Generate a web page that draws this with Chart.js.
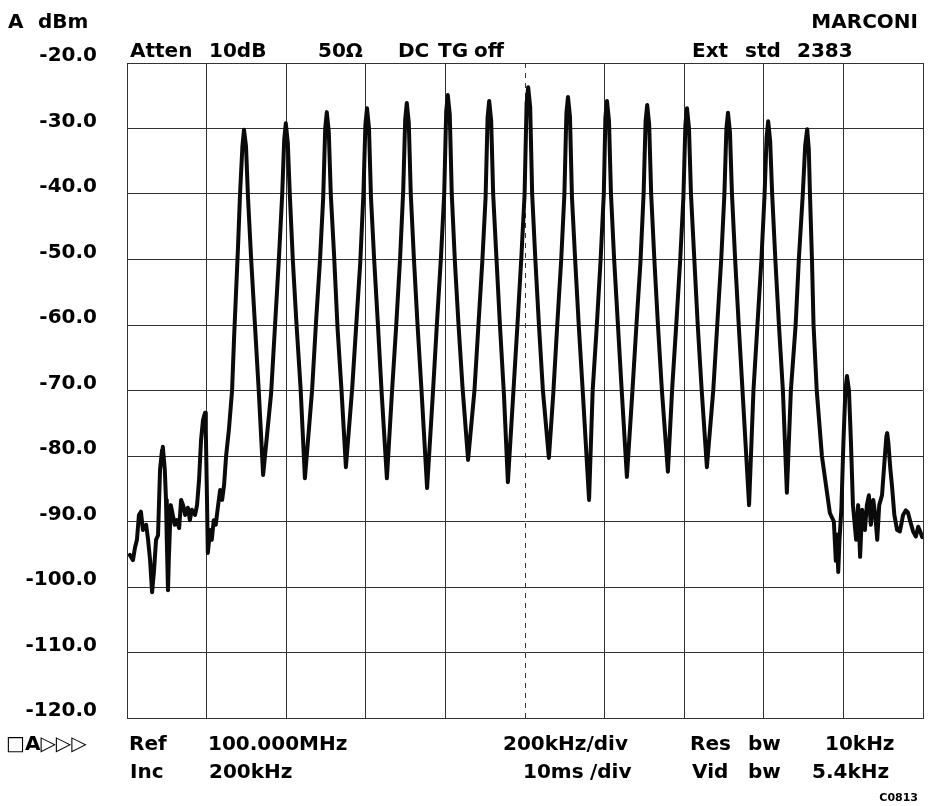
<!DOCTYPE html>
<html>
<head>
<meta charset="utf-8">
<script src="https://cdn.jsdelivr.net/npm/chart.js@4.4.1/dist/chart.umd.min.js"></script>
<style>
  html, body { margin: 0; padding: 0; background: #ffffff; }
  #wrap { position: relative; width: 933px; height: 806px; }
  canvas { display: block; }
</style>
</head>
<body>
<div id="wrap"><canvas id="c" width="933" height="806"></canvas></div>
<script>
// ---------------- DATA ----------------
// Frequency offsets from the 100.000 MHz reference, in kHz (span 200 kHz/div)
const yTicksDbm = [-20, -30, -40, -50, -60, -70, -80, -90, -100, -110, -120];

// Lower skirt (left of the first main line)
const skirtLowKHz = [-993, -985, -980, -975, -970, -965, -960, -952, -947, -942, -937, -932, -927, -922,
  -917, -912, -910, -905, -902, -900, -897, -895, -890, -885, -880, -875, -869, -864, -859, -854, -847,
  -842, -837, -829, -824, -819, -814, -809, -804, -802, -799, -797, -791, -787, -782, -777, -771, -766,
  -761, -756, -751, -744, -736, -731, -726, -721, -716, -710];
const skirtLowDbm = [-95.1, -95.9, -94.0, -92.8, -89.0, -88.5, -91.3, -90.5, -92.8, -95.9, -100.8, -97.4, -92.8, -92.1,
  -82.1, -79.1, -78.6, -82.1, -86.7, -92.8, -100.5, -95.9, -87.5, -89.0, -90.5, -89.8, -91.0, -86.7, -87.5, -89.0, -87.9,
  -89.8, -88.2, -89.0, -87.5, -83.7, -77.6, -74.5, -73.4, -76.0, -86.7, -94.8, -91.3, -92.8, -89.8, -90.5, -87.5, -85.2,
  -86.7, -84.4, -80.0, -76.0, -70.0, -62.0, -55.0, -48.0, -40.0, -32.7];

// Main comb of lines
const lobeKHz = [
  -706, -701, -696, -688, -679, -669, -658,
  -638, -628, -618, -610, -605, -601, -596, -591, -583, -574, -564, -553,
  -535, -525, -515, -507, -502, -498, -493, -488, -480, -471, -461, -450,
  -434, -424, -414, -406, -401, -397, -392, -387, -379, -370, -360, -347,
  -334, -324, -314, -306, -301, -297, -292, -287, -279, -270, -260, -246,
  -231, -221, -211, -203, -198, -194, -189, -184, -176, -167, -157, -143,
  -127, -117, -107, -99, -94, -90, -85, -80, -72, -63, -53, -43,
  -29, -19, -9, -1, 4, 8, 13, 18, 26, 35, 45, 60,
  71, 81, 91, 99, 104, 108, 113, 118, 126, 135, 145, 161,
  170, 180, 190, 198, 202, 206, 211, 216, 224, 233, 243, 256,
  270, 280, 290, 298, 303, 307, 312, 317, 325, 334, 344, 359,
  370, 380, 390, 398, 403, 407, 412, 417, 425, 434, 444, 457,
  473, 483, 493, 501, 506, 510, 515, 520, 528, 537, 547, 563,
  574, 584, 594, 602, 607, 611, 616, 621, 629, 638, 648, 658,
  668, 680, 688, 698, 704, 709, 713, 716, 721, 725, 733, 746, 766, 776, 781, 784, 787, 790, 795, 800, 805, 809, 814, 819];
const lobeDbm = [
  -30.2, -32.7, -40.5, -50, -59.5, -70, -82.9,
  -70.5, -60, -49.5, -40, -31.7, -29.2, -32.2, -40, -50.5, -60, -69.5, -83.4,
  -70, -59.5, -50, -40.5, -30.0, -27.5, -30.5, -40, -49, -60.5, -70, -81.7,
  -69.5, -60, -50.5, -40, -29.4, -26.9, -29.9, -40.5, -50, -59.5, -70.5, -83.4,
  -70, -60.5, -50, -39.5, -28.6, -26.1, -29.1, -40, -50, -60, -70, -84.9,
  -70, -59.5, -49.5, -40, -27.4, -24.9, -27.9, -40, -50.5, -60, -69.5, -80.6,
  -70, -60, -50, -40.5, -28.3, -25.8, -28.8, -40, -49.5, -60, -70.5, -84.0,
  -70, -60, -49.5, -40, -26.2, -23.7, -26.7, -40, -50, -60, -70, -80.3,
  -70.5, -60, -50, -40, -27.7, -25.2, -28.2, -40.5, -50, -60, -70, -86.7,
  -70, -60.5, -50, -40, -28.3, -25.8, -28.8, -40, -50, -59.5, -70, -83.2,
  -70, -60, -50.5, -40, -28.9, -26.4, -29.4, -40, -50, -60, -70, -82.4,
  -69.5, -60, -50, -40.5, -29.4, -26.9, -29.9, -40, -49.5, -60, -70, -81.7,
  -70, -60, -50, -40, -30.1, -27.6, -30.6, -40, -50, -60, -70.5, -87.5,
  -70, -60, -50, -40, -31.4, -28.9, -31.9, -40, -50, -60, -70, -85.6,
  -70, -60, -50, -40, -32.6, -30.1, -33.1, -40, -50, -60, -70, -80, -88.7, -90, -96, -92, -97.7, -93, -88, -78, -70, -67.8, -70, -78];

// Upper skirt (right of the last main line)
const skirtHighKHz = [824, 832, 837, 842, 847, 854, 859, 864, 869, 875, 880, 885, 890, 897, 903, 908, 910, 913,
  918, 922, 928, 935, 942, 950, 957, 962, 968, 975, 982, 988, 993, 998];
const skirtHighDbm = [-87.5, -92.8, -87.5, -95.4, -88.2, -91.3, -87.5, -86.0, -90.5, -86.7, -89.0, -92.8, -87.5, -86.0, -81, -77, -76.5, -78,
  -82, -84.5, -89, -91.3, -91.5, -89, -88.3, -88.6, -90, -91.5, -92.3, -90.8, -91.5, -92.4];

// ---------------- ANNOTATION TEXT ----------------
const FONT = 'bold 20px "DejaVu Sans"';
const annotations = [
  { t: 'A', x: 8, y: 28 },
  { t: 'dBm', x: 38, y: 28 },
  { t: 'MARCONI', x: 918, y: 28, align: 'right' },
  { t: 'Atten', x: 130, y: 57 },
  { t: '10dB', x: 209, y: 57 },
  { t: '50\u03A9', x: 318, y: 57 },
  { t: 'DC', x: 398, y: 57 },
  { t: 'TG', x: 438, y: 57 },
  { t: 'off', x: 474, y: 57 },
  { t: 'Ext', x: 692, y: 57 },
  { t: 'std', x: 745, y: 57 },
  { t: '2383', x: 797, y: 57 },
  { t: '\u25A1A\u25B7\u25B7\u25B7', x: 6, y: 750 },
  { t: 'Ref', x: 129, y: 750 },
  { t: '100.000MHz', x: 208, y: 750 },
  { t: '200kHz/div', x: 503, y: 750 },
  { t: 'Res', x: 690, y: 750 },
  { t: 'bw', x: 748, y: 750 },
  { t: '10kHz', x: 825, y: 750 },
  { t: 'Inc', x: 130, y: 778 },
  { t: '200kHz', x: 209, y: 778 },
  { t: '10ms', x: 523, y: 778 },
  { t: '/div', x: 590, y: 778 },
  { t: 'Vid', x: 692, y: 778 },
  { t: 'bw', x: 748, y: 778 },
  { t: '5.4kHz', x: 812, y: 778 },
  { t: 'C0813', x: 918, y: 801, align: 'right', font: 'bold 11px "DejaVu Sans"' }
];

const textPlugin = {
  id: 'panelText',
  afterDraw(chart) {
    const ctx = chart.ctx;
    ctx.save();
    ctx.fillStyle = '#000';
    ctx.textBaseline = 'alphabetic';
    for (const a of annotations) {
      ctx.font = a.font || FONT;
      ctx.textAlign = a.align || 'left';
      ctx.fillText(a.t, a.x, a.y);
    }
    ctx.restore();
  }
};

// ---------------- BUILD ----------------
const allKHz = skirtLowKHz.concat(lobeKHz, skirtHighKHz);
const allDbm = skirtLowDbm.concat(lobeDbm, skirtHighDbm);
const trace = allKHz.map((f, i) => ({ x: f, y: allDbm[i] }));

const GRID = '#333333';

new Chart(document.getElementById('c'), {
  type: 'line',
  data: {
    datasets: [{
      data: trace,
      borderColor: '#0a0a0a',
      borderWidth: 4,
      pointRadius: 0,
      tension: 0,
      fill: false,
      borderJoinStyle: 'round',
      borderCapStyle: 'round'
    }]
  },
  options: {
    responsive: false,
    animation: false,
    devicePixelRatio: 1,
    layout: { padding: { top: 63, right: 10, bottom: 88, left: 0 } },
    plugins: { legend: { display: false }, tooltip: { enabled: false }, title: { display: false } },
    scales: {
      x: {
        type: 'linear',
        min: -1000,
        max: 1000,
        ticks: { stepSize: 200, display: false },
        grid: { color: GRID, lineWidth: 1, drawTicks: false },
        border: {
          display: true, color: GRID, width: 1,
          dash: (ctx) => (ctx.tick && ctx.tick.value === 0) ? [5, 5] : []
        },
        afterFit: (s) => { s.height = 0; }
      },
      y: {
        type: 'linear',
        min: -120,
        max: -20,
        afterBuildTicks: (s) => { s.ticks = yTicksDbm.map(v => ({ value: v })); },
        ticks: {
          callback: (v) => Number(v).toFixed(1),
          font: { family: 'DejaVu Sans', size: 20, weight: 'bold' },
          color: '#000',
          padding: 30,
          labelOffset: -7,
          autoSkip: false
        },
        grid: { color: GRID, lineWidth: 1, drawTicks: false },
        border: { display: true, color: GRID, width: 1 },
        afterFit: (s) => { s.width = 127; }
      }
    }
  },
  plugins: [textPlugin]
});
</script>
</body>
</html>
